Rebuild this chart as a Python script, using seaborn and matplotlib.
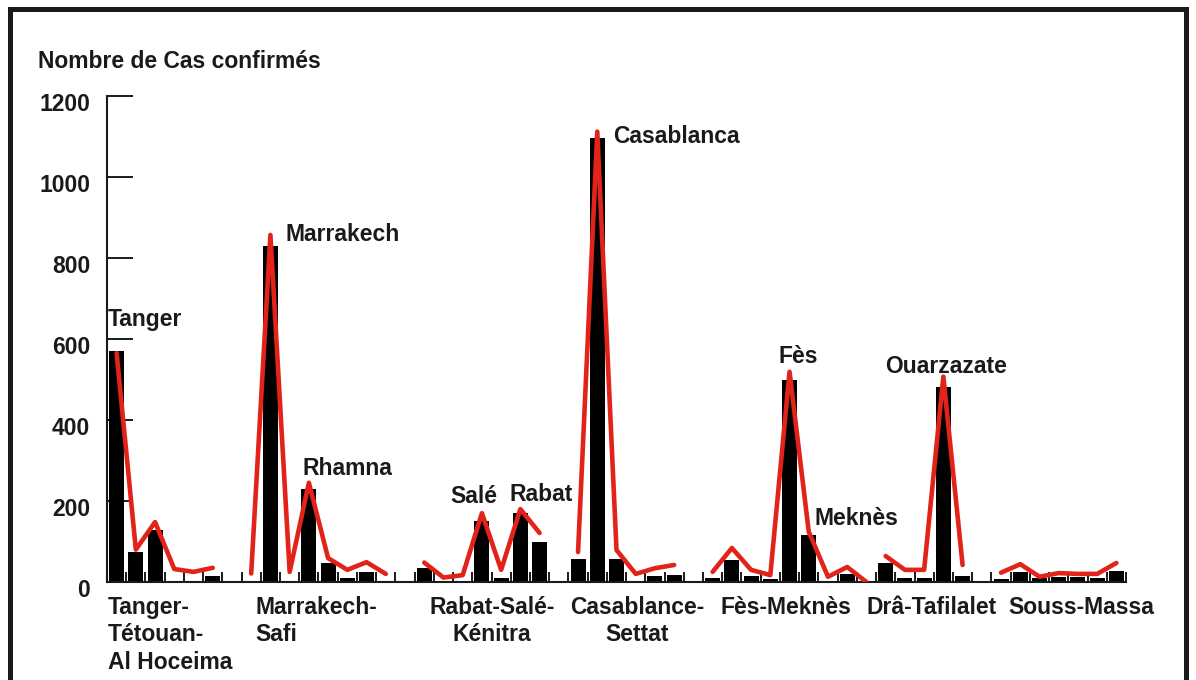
import numpy as np
import pandas as pd
import matplotlib
matplotlib.use('Agg')
import matplotlib.pyplot as plt
import matplotlib.transforms as mtransforms
from matplotlib.patches import Rectangle
import seaborn as sns

# ── Data (one list per region, gaps between regions added below) ───────────────
regions = ['Tanger-\nTétouan-\nAl Hoceima', 'Marrakech-\nSafi', 'Rabat-Salé-\nKénitra',
           'Casablance-\nSettat', 'Fès-Meknès', 'Drâ-Tafilalet', 'Souss-Massa']

bars_tanger    = [570, 75, 128, 0, 0, 15]
bars_marrakech = [0, 830, 0, 230, 48, 11, 25, 0]
bars_rabat     = [35, 0, 0, 150, 10, 170, 100]
bars_casa      = [57, 1096, 57, 0, 15, 17]
bars_fes       = [11, 55, 15, 8, 500, 117, 0, 20]
bars_dra       = [48, 9, 11, 481, 14]
bars_souss     = [8, 25, 10, 12, 12, 10, 28]

red_tanger    = [565, 80, 148, 32, 25, 35]
red_marrakech = [21, 857, 25, 245, 59, 30, 49, 20]
red_rabat     = [48, 11, 17, 170, 30, 180, 121]
red_casa      = [74, 1112, 79, 20, 34, 42]
red_fes       = [25, 84, 30, 17, 519, 124, 13, 37, 0]
red_dra       = [64, 30, 30, 507, 42]
red_souss     = [23, 44, 13, 22, 20, 20, 47]

cities       = ['Tanger', 'Marrakech', 'Rhamna', 'Salé', 'Rabat', 'Casablanca',
                'Fès', 'Meknès', 'Ouarzazate']
city_x       = [-0.45, 8.76, 9.69, 17.34, 20.46, 25.81, 34.44, 36.32, 39.96]
city_y       = [647, 859, 281, 210, 217, 1099, 558, 156, 531]

region_lbl_x  = [-0.45, 7.2, 19.52, 27.06, 34.81, 42.4, 50.2]
region_lbl_ha = ['left', 'left', 'center', 'center', 'center', 'center', 'center']

yticks = [0, 200, 400, 600, 800, 1000, 1200]

all_bars = [bars_tanger, bars_marrakech, bars_rabat, bars_casa, bars_fes, bars_dra, bars_souss]
all_red  = [red_tanger, red_marrakech, red_rabat, red_casa, red_fes, red_dra, red_souss]

# ── Build slot tables ──────────────────────────────────────────────────────────
bar_rows, red_rows = [], []
start = 0
for reg, b, r in zip(regions, all_bars, all_red):
    for i, v in enumerate(b):
        bar_rows.append((start + i, v))
    for i, v in enumerate(r):
        red_rows.append((start + i, v, reg))
    start += len(b)
    if reg != regions[-1]:
        bar_rows.append((start, 0))   # empty slot between regions
        start += 1
n_slots = start
df_bars = pd.DataFrame(bar_rows, columns=['slot', 'cases'])
df_red = pd.DataFrame(red_rows, columns=['slot', 'cases', 'region'])

# ── Plot ───────────────────────────────────────────────────────────────────────
sns.set_style('white')
plt.rcParams['font.family'] = ['Liberation Sans', 'DejaVu Sans']
TXT = '#1a1a1a'
RED = '#e2231a'

W, H = 1196, 680
fig = plt.figure(figsize=(W / 100, H / 100), dpi=100)
fig.patch.set_facecolor('white')
ax = fig.add_axes([107 / W, 98 / H, (1126 - 107) / W, 486 / H])

sns.barplot(data=df_bars, x='slot', y='cases', color='black', width=0.78,
            errorbar=None, saturation=1, linewidth=0, ax=ax)
sns.lineplot(data=df_red, x='slot', y='cases', hue='region', hue_order=regions,
             palette=[RED] * len(regions), legend=False, linewidth=3.3, ax=ax, zorder=5)

ax.set_xlim(-0.5, n_slots - 0.5)
ax.set_ylim(0, 1200)
ax.set_xlabel('')
ax.set_ylabel('')
sns.despine(ax=ax)
for s in ['left', 'bottom']:
    ax.spines[s].set_linewidth(1.5)
    ax.spines[s].set_color(TXT)

ax.set_xticks(np.arange(-0.5, n_slots, 1))
ax.set_xticklabels([])
ax.tick_params(axis='x', bottom=True, direction='in', length=7, width=1.4, color=TXT)
ax.set_yticks(yticks)
ax.set_yticklabels([str(v) for v in yticks], fontsize=16.5, fontweight='bold', color=TXT)
ax.tick_params(axis='y', left=True, direction='in', length=19, width=1.4, color=TXT, pad=12)
shift = mtransforms.ScaledTranslation(0, -6 / 100, fig.dpi_scale_trans)
for lbl in ax.get_yticklabels():
    lbl.set_transform(lbl.get_transform() + shift)

# city annotations
for name, x, y in zip(cities, city_x, city_y):
    ax.text(x, y, name, ha='left', va='center', fontsize=16.5,
            fontweight='bold', color=TXT, zorder=6)

# region labels under the axis
blend = mtransforms.blended_transform_factory(ax.transData, ax.transAxes)
for name, x, ha in zip(regions, region_lbl_x, region_lbl_ha):
    ax.text(x, -0.028, name, ha=ha, va='top', multialignment=ha, linespacing=1.25,
            fontsize=16.5, fontweight='bold', color=TXT, transform=blend, clip_on=False)

fig.text(38 / W, 1 - 62 / H, 'Nombre de Cas confirmés', ha='left', va='center',
         fontsize=16.5, fontweight='bold', color=TXT)

# outer frame (bottom edge cut off by the picture)
fig.patches.append(Rectangle((9.5 / W, -0.1), (1186 - 9.5) / W, 1.1 - 9.5 / H,
                             transform=fig.transFigure, fill=False, lw=3.6, ec=TXT))

plt.savefig('out.png', dpi=100, facecolor='white')
plt.close()
